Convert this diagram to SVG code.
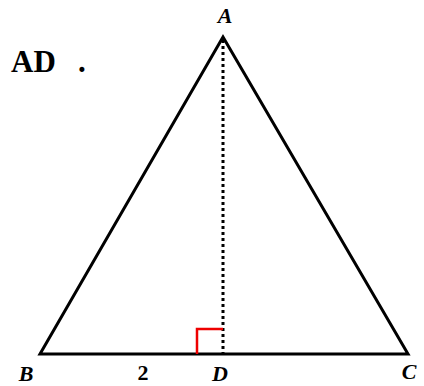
<svg xmlns="http://www.w3.org/2000/svg" width="424" height="386" viewBox="0 0 424 386">
<style>
.lbl{font-family:"Liberation Serif","DejaVu Serif",serif;font-style:italic;font-weight:bold;font-size:22px;fill:#000;text-anchor:middle}
.num{font-family:"Liberation Serif","DejaVu Serif",serif;font-weight:bold;font-size:22px;fill:#000;text-anchor:middle}
.title{font-family:"Liberation Serif","DejaVu Serif",serif;font-weight:bold;font-size:31px;fill:#000}
</style>
<rect width="424" height="386" fill="#fff"/>
<g id="connectors">
<polygon points="223,37 40,354 408,354" fill="none" stroke="#000" stroke-width="3" stroke-linejoin="miter"/>
<line x1="223" y1="40" x2="223" y2="353" stroke="#000" stroke-width="3" stroke-dasharray="3,3"/>
<polyline points="197,354 197,329 223,329" fill="none" stroke="#e00" stroke-width="2.5"/>
</g>
<g id="title"><text class="title" x="11" y="72">AD<tspan x="78">.</tspan></text></g>
<g id="A"><text class="lbl" x="225" y="23">A</text></g>
<g id="B"><text class="lbl" x="26" y="381">B</text></g>
<g id="D"><text class="lbl" x="220" y="381">D</text></g>
<g id="C"><text class="lbl" x="409" y="379">C</text></g>
<g id="len"><text class="num" x="143" y="380">2</text></g>
</svg>
